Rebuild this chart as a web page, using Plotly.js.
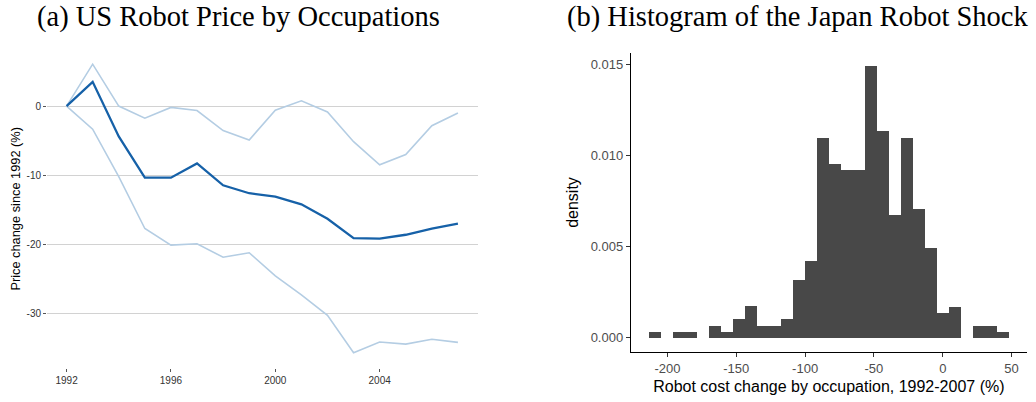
<!DOCTYPE html>
<html>
<head>
<meta charset="utf-8">
<script src="https://cdn.plot.ly/plotly-3.0.1.min.js"></script>
<style>
  html, body { margin: 0; padding: 0; background: #ffffff; }
  #chart { width: 1036px; height: 402px; }
</style>
</head>
<body>
<div id="chart"></div>
<script>
// ---- Panel (a): US robot price by occupation ----
const years = [1992, 1993, 1994, 1995, 1996, 1997, 1998, 1999, 2000, 2001, 2002, 2003, 2004, 2005, 2006, 2007];
const priceMedian = [0, 3.5, -4.4, -10.35, -10.35, -8.3, -11.45, -12.6, -13.1, -14.2, -16.3, -19.1, -19.15, -18.6, -17.7, -17.0];
const priceUpper  = [0, 6.05, 0, -1.75, -0.2, -0.65, -3.55, -4.9, -0.6, 0.75, -0.85, -5.15, -8.5, -7.0, -2.85, -1.0];
const priceLower  = [0, -3.35, -10.2, -17.7, -20.1, -19.9, -21.85, -21.2, -24.55, -27.3, -30.25, -35.65, -34.1, -34.4, -33.7, -34.15];
const priceTicks  = [0, -10, -20, -30];
const yearTicks   = [1992, 1996, 2000, 2004];

// ---- Panel (b): histogram of Japan robot shock (30 bins) ----
const binStart = -213.4;
const binWidth = 8.72;
const density = [0.0003, 0, 0.0003, 0.0003, 0, 0.00064, 0.0003, 0.00101, 0.00172, 0.00064,
                 0.00064, 0.00101, 0.00315, 0.00423, 0.01096, 0.00954, 0.00918, 0.00918, 0.01489, 0.01136,
                 0.00674, 0.01097, 0.00705, 0.00491, 0.00137, 0.0017, 0, 0.00064, 0.00064, 0.0003];
const densityTicks = [0, 0.005, 0.010, 0.015];
const costTicks = [-200, -150, -100, -50, 0, 50];

const binCenters = density.map((_, i) => binStart + binWidth * (i + 0.5));

const lightBlue = '#b4cde3';
const darkBlue = '#1661a8';

const traces = [
  { x: years, y: priceUpper, type: 'scatter', mode: 'lines', line: { color: lightBlue, width: 1.6 }, xaxis: 'x', yaxis: 'y', hoverinfo: 'skip' },
  { x: years, y: priceLower, type: 'scatter', mode: 'lines', line: { color: lightBlue, width: 1.6 }, xaxis: 'x', yaxis: 'y', hoverinfo: 'skip' },
  { x: years, y: priceMedian, type: 'scatter', mode: 'lines', line: { color: darkBlue, width: 2.3 }, xaxis: 'x', yaxis: 'y' },
  { x: binCenters, y: density, type: 'bar', width: binWidth, marker: { color: '#484848', line: { width: 0 } }, xaxis: 'x2', yaxis: 'y2' }
];

const sans = 'Liberation Sans, Arial, Helvetica, sans-serif';
const serif = 'Liberation Serif, Times New Roman, serif';

const layout = {
  width: 1036,
  height: 402,
  margin: { l: 0, r: 0, t: 0, b: 0 },
  paper_bgcolor: '#ffffff',
  plot_bgcolor: 'rgba(0,0,0,0)',
  showlegend: false,
  bargap: 0,
  xaxis: {
    domain: [47 / 1036, 477.5 / 1036],
    anchor: 'y',
    range: [1991.25, 2007.75],
    tickvals: yearTicks,
    ticktext: yearTicks.map(String),
    ticks: 'outside', ticklen: 3, tickwidth: 1, tickcolor: '#555555',
    showgrid: false, zeroline: false, showline: false,
    tickfont: { family: sans, size: 10, color: '#333333' }
  },
  yaxis: {
    domain: [1 - 367.6 / 402, 1 - 50 / 402],
    anchor: 'x',
    range: [-37.8, 8.1],
    tickvals: priceTicks,
    ticktext: priceTicks.map(String),
    ticks: 'outside', ticklen: 3, tickwidth: 1, tickcolor: '#555555',
    showgrid: true, gridcolor: '#d2d2d2', gridwidth: 1,
    zeroline: false, showline: false,
    tickfont: { family: sans, size: 10, color: '#333333' },
    title: { text: 'Price change since 1992 (%)', font: { family: sans, size: 12.8, color: '#000000' }, standoff: 3 }
  },
  xaxis2: {
    domain: [631 / 1036, 1026.7 / 1036],
    anchor: 'y2',
    range: [-226.5, 61],
    tickvals: costTicks,
    ticktext: costTicks.map(String),
    ticks: 'outside', ticklen: 4, tickwidth: 1, tickcolor: '#333333',
    showgrid: false, zeroline: false,
    showline: true, linecolor: '#000000', linewidth: 1.2,
    tickfont: { family: sans, size: 13, color: '#4d4d4d' },
    title: { text: 'Robot cost change by occupation, 1992-2007 (%)', font: { family: sans, size: 16, color: '#000000' }, standoff: 6 }
  },
  yaxis2: {
    domain: [1 - 351.7 / 402, 1 - 53.3 / 402],
    anchor: 'x2',
    range: [-0.00077, 0.0156],
    tickvals: densityTicks,
    ticktext: densityTicks.map(v => v.toFixed(3)),
    ticks: 'outside', ticklen: 4, tickwidth: 1, tickcolor: '#333333',
    showgrid: false, zeroline: false,
    showline: true, linecolor: '#000000', linewidth: 1.2,
    tickfont: { family: sans, size: 13, color: '#4d4d4d' },
    title: { text: 'density', font: { family: sans, size: 16, color: '#000000' }, standoff: 8 }
  },
  annotations: [
    { text: '(a) US Robot Price by Occupations', xref: 'paper', yref: 'paper', x: 238.5 / 1036, y: 1 - 17 / 402,
      xanchor: 'center', yanchor: 'middle', showarrow: false, font: { family: serif, size: 28.5, color: '#000000' } },
    { text: '(b) Histogram of the Japan Robot Shock', xref: 'paper', yref: 'paper', x: 797 / 1036, y: 1 - 17 / 402,
      xanchor: 'center', yanchor: 'middle', showarrow: false, font: { family: serif, size: 28.5, color: '#000000' } }
  ]
};

Plotly.newPlot('chart', traces, layout, { displayModeBar: false, staticPlot: true });
</script>
</body>
</html>
